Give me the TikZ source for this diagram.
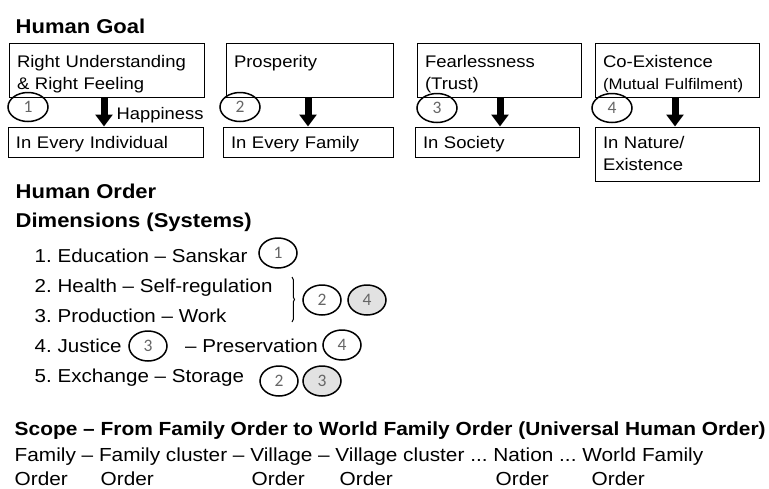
\documentclass[tikz,border=0pt]{standalone}
\usepackage{fontspec}
\setmainfont{Liberation Sans}[FakeStretch=1.1]
\newfontfamily\numfont{Carlito}
\usetikzlibrary{shapes.geometric,arrows.meta,decorations.pathreplacing}
\definecolor{numgray}{HTML}{666666}
\definecolor{cellgray}{HTML}{E2E2E2}
\tikzset{
  head/.style={anchor=base west,inner sep=0pt,font=\fontsize{20}{24}\selectfont\bfseries},
  item/.style={anchor=base west,inner sep=0pt,font=\fontsize{18.7}{22}\selectfont},
  goalbox/.style={draw,line width=1pt,anchor=north west,inner xsep=7.5pt,inner ysep=0pt,
    align=left,font=\fontsize{16.8}{22}\selectfont,text height=24pt,text depth=30pt},
  orderbox/.style={goalbox,text height=21.5pt,text depth=9pt},
  numcirc/.style={ellipse,draw,line width=1.5pt,minimum width=38pt,minimum height=30pt,
    inner sep=0pt,text=numgray,font=\numfont\fontsize{17.5}{17.5}\selectfont},
  topcirc/.style={numcirc,minimum width=40pt,minimum height=29pt},
  graycirc/.style={numcirc,fill=cellgray},
  bigarrow/.style={line width=7pt,-{Triangle[width=17pt,length=12pt]}}
}
\begin{document}
\frenchspacing
\begin{tikzpicture}[x=1pt,y=-1pt]
\useasboundingbox (0,0) rectangle (769,488);
% human goal
\node[head] (goal) at (15.5,33) {Human Goal};
\node[goalbox,text width=180pt] (g1) at (9,43) {Right Understanding\\\& Right Feeling};
\node[goalbox,text width=152pt] (g2) at (226,43) {Prosperity};
\node[goalbox,text width=149pt] (g3) at (417,43) {Fearlessness\\(Trust)};
\node[goalbox,text width=149pt] (g4) at (595,43) {Co-Existence\\{\fontsize{15.3}{22}\selectfont(Mutual Fulfilment)}};
\node[orderbox,text width=180pt] (o1) at (8,126.5) {In Every Individual};
\node[orderbox,text width=155pt] (o2) at (223,126.5) {In Every Family};
\node[orderbox,text width=149pt] (o3) at (415,126.5) {In Society};
\node[orderbox,text width=149pt,text depth=33pt] (o4) at (595,126.5) {In Nature/\\Existence};
\node[topcirc] (n1) at (28,107) {1};
\node[topcirc] (n2) at (240,107) {2};
\node[topcirc] (n3) at (437,108) {3};
\node[topcirc] (n4) at (612,108) {4};
\coordinate (a1) at (104,97);
\coordinate (a2) at (308,97);
\coordinate (a3) at (500,97);
\coordinate (a4) at (675,97);
\draw[bigarrow] (a1) -- (a1 |- o1.north);
\draw[bigarrow] (a2) -- (a2 |- o2.north);
\draw[bigarrow] (a3) -- (a3 |- o3.north);
\draw[bigarrow] (a4) -- (a4 |- o4.north);
\node[item,font=\fontsize{16.7}{20}\selectfont] (happy) at (116.5,119) {Happiness};
% human order
\node[head] (order) at (15.5,198) {Human Order};
\node[head] (dims) at (15.5,227) {Dimensions (Systems)};
\node[item] (d1) at (34.5,262) {1. Education – Sanskar};
\node[item] (d2) at (34.5,292) {2. Health – Self-regulation};
\node[item] (d3) at (34.5,322) {3. Production – Work};
\node[item] (d4) at (34.5,352) {4. Justice};
\node[item] (d4b) at (185,352) {– Preservation};
\node[item] (d5) at (34.5,382) {5. Exchange – Storage};
\node[numcirc] (m1) at (278,253) {1};
\node[numcirc] (m2) at (322,300) {2};
\node[graycirc] (m3) at (367,300) {4};
\node[numcirc] (m4) at (148,346) {3};
\node[numcirc] (m5) at (342,345) {4};
\node[numcirc] (m6) at (279,381) {2};
\node[graycirc] (m7) at (322,381) {3};
\coordinate (br1) at (292,277);
\coordinate (br2) at (292,322);
\draw[line width=1pt,decorate,decoration={brace,amplitude=2.5pt,aspect=0.5}] (br1) -- (br2);
% scope
\node[item,font=\fontsize{19}{22}\selectfont\bfseries] (scope) at (14.5,435)
  {Scope – From Family Order to World Family Order (Universal Human Order)};
\node[item,font=\fontsize{18.9}{22}\selectfont] (levels) at (14.5,461)
  {Family – Family cluster – Village – Village cluster ... Nation ... World Family};
\foreach \x [count=\i] in {14.5,100.5,251.5,339.5,495.5,591.5}
  \node[item,font=\fontsize{18.9}{22}\selectfont] (ord\i) at (\x,485) {Order};
\end{tikzpicture}
\end{document}
